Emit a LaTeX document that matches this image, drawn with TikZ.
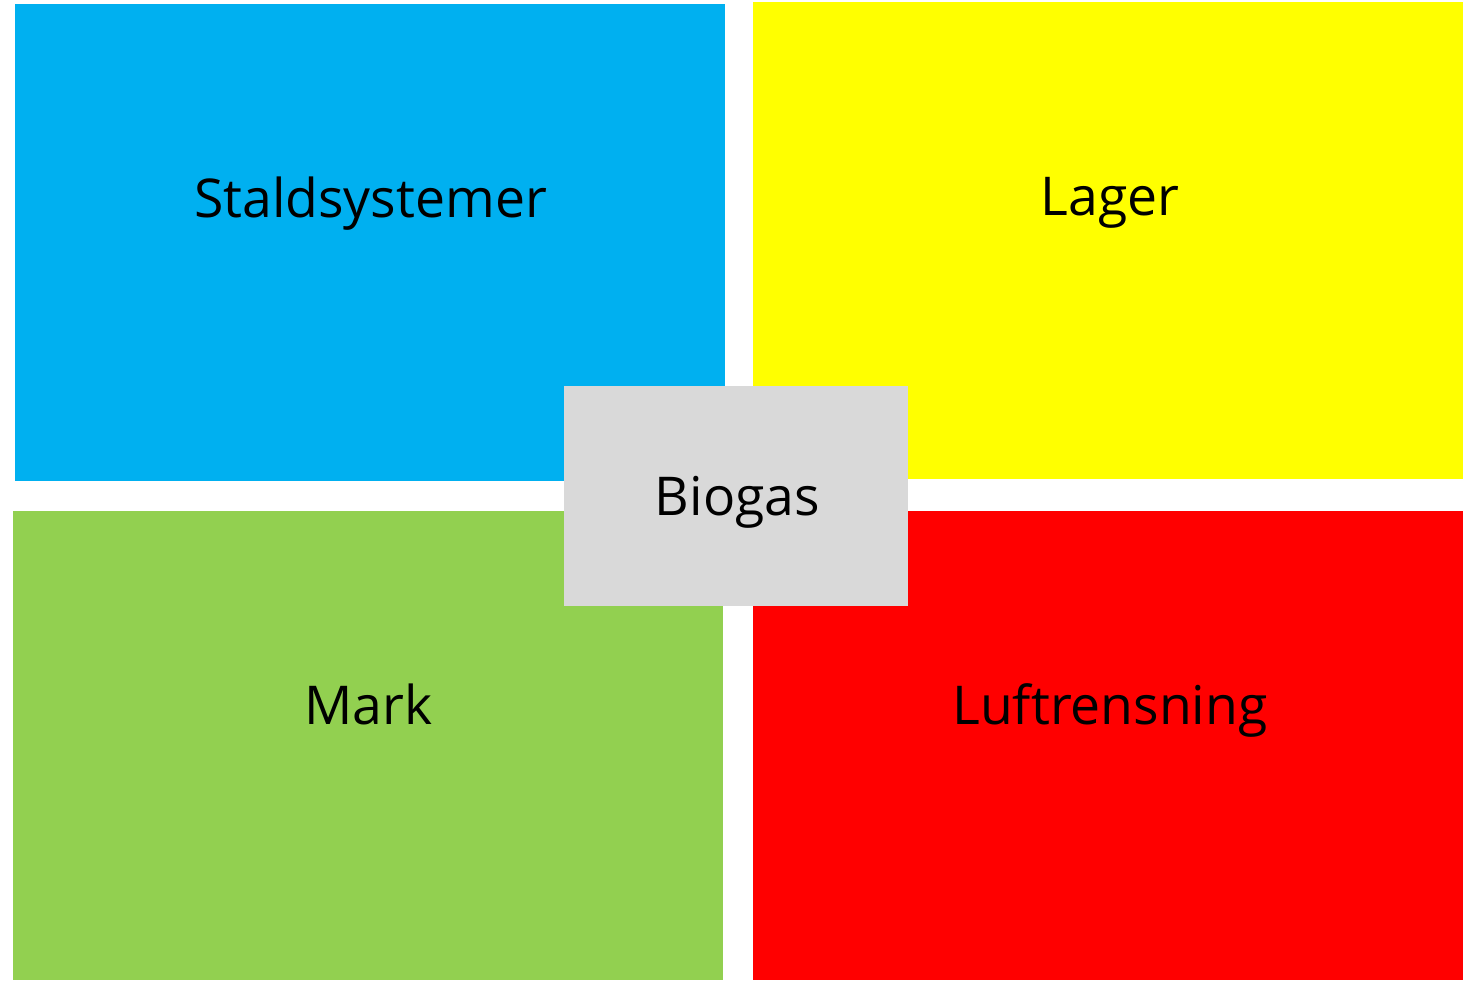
\documentclass[tikz,border=0pt]{standalone}
\usepackage{fontspec}
\setmainfont{Open Sans}
\definecolor{cblue}{HTML}{00B0F0}
\definecolor{cyellow}{HTML}{FFFF00}
\definecolor{cgreen}{HTML}{92D050}
\definecolor{cred}{HTML}{FF0000}
\definecolor{cgray}{HTML}{D9D9D9}
\tikzset{
  panel/.style={rectangle, inner sep=0pt, outer sep=0pt, draw=none},
  lbl/.style={anchor=base, inner sep=0pt, font=\fontsize{53.5}{62}\selectfont, text=black}
}
\begin{document}
\begin{tikzpicture}[x=1pt,y=-1pt]
\useasboundingbox (0,0) rectangle (1464,981);
\node[panel, fill=cblue, minimum width=710pt, minimum height=477pt] (stald) at (370,242.5) {};
\node[panel, fill=cyellow, minimum width=710pt, minimum height=477pt] (lager) at (1108,240.5) {};
\node[panel, fill=cgreen, minimum width=710pt, minimum height=469pt] (mark) at (368,745.5) {};
\node[panel, fill=cred, minimum width=710pt, minimum height=469pt] (luft) at (1108,745.5) {};
\node[panel, fill=cgray, minimum width=344pt, minimum height=220pt] (bio) at (736,496) {};
\node[lbl] (tstald) at (370.5,218) {Staldsystemer};
\node[lbl] (tlager) at (1110,216) {Lager};
\node[lbl] (tbio) at (737.5,515) {Biogas};
\node[lbl] (tmark) at (368.5,724) {Mark};
\node[lbl] (tluft) at (1110,724) {Luftrensning};
\end{tikzpicture}
\end{document}
